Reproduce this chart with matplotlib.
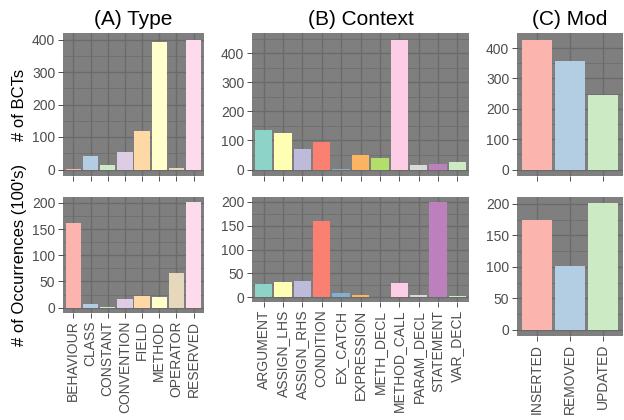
import matplotlib
matplotlib.use("Agg")
import matplotlib.pyplot as plt
import numpy as np

plt.rcParams["font.family"] = ["Liberation Sans", "DejaVu Sans"]

# (A) Type
type_labels = ["BEHAVIOUR", "CLASS", "CONSTANT", "CONVENTION", "FIELD",
               "METHOD", "OPERATOR", "RESERVED"]
type_bcts = [2, 42, 14, 54, 120, 393, 4, 400]
type_occ = [161, 7, 1, 17, 22, 21, 66, 201]

# (B) Context
ctx_labels = ["ARGUMENT", "ASSIGN_LHS", "ASSIGN_RHS", "CONDITION", "EX_CATCH",
              "EXPRESSION", "METH_DECL", "METHOD_CALL", "PARAM_DECL",
              "STATEMENT", "VAR_DECL"]
ctx_bcts = [137, 127, 72, 96, 2, 51, 41, 448, 16, 19, 26]
ctx_occ = [27, 31, 35, 160, 8, 4, 1, 29, 4, 200, 3]

# (C) Mod
mod_labels = ["INSERTED", "REMOVED", "UPDATED"]
mod_bcts = [428, 358, 245]
mod_occ = [175, 101, 201]

pastel1 = ["#FBB4AE", "#B3CDE3", "#CCEBC5", "#DECBE4", "#FED9A6",
           "#FFFFCC", "#E5D8BD", "#FDDAEC"]
set3 = ["#8DD3C7", "#FFFFB3", "#BEBADA", "#FB8072", "#80B1D3", "#FDB462",
        "#B3DE69", "#FCCDE5", "#D9D9D9", "#BC80BD", "#CCEBC5"]

W, H = 624, 420
fig = plt.figure(figsize=(W / 100, H / 100), dpi=100)


def panel(x0, y0, x1, y1):
    # pixel box -> figure coords
    return fig.add_axes([x0 / W, 1 - y1 / H, (x1 - x0) / W, (y1 - y0) / H])


def draw(ax, labels, values, colors, step, show_x):
    n = len(labels)
    vmax = max(values)
    ax.set_facecolor("#7F7F7F")
    ax.set_xlim(-0.6, n - 0.4)
    ax.set_ylim(-0.05 * vmax, 1.05 * vmax)
    lo, hi = ax.get_ylim()
    majors = np.arange(0, hi, step)
    minors = np.arange(-step / 2, hi, step)
    minors = minors[(minors > lo) & (minors < hi)]
    for m in minors:
        ax.axhline(m, color="#6B6B6B", lw=0.5, zorder=0)
    for m in majors:
        ax.axhline(m, color="#6B6B6B", lw=1.0, zorder=0)
    for i in range(n):
        ax.axvline(i, color="#6B6B6B", lw=1.0, zorder=0)
    ax.bar(range(n), values, width=0.9, color=colors[:n], zorder=2)
    ax.set_yticks(majors)
    ax.set_yticklabels([str(int(m)) for m in majors])
    ax.set_xticks(range(n))
    if show_x:
        ax.set_xticklabels(labels, rotation=90, ha="center", va="top")
    else:
        ax.set_xticklabels([])
    for s in ax.spines.values():
        s.set_visible(False)
    ax.tick_params(axis="both", colors="#333333", labelcolor="#4D4D4D",
                   labelsize=10, length=3.5, width=0.6, pad=2)


axA1 = panel(63, 33, 204, 176)
axA2 = panel(63, 197, 204, 313)
axB1 = panel(252, 33, 469, 176)
axB2 = panel(252, 197, 469, 302)
axC1 = panel(517, 33, 623, 176)
axC2 = panel(517, 197, 623, 336)

draw(axA1, type_labels, type_bcts, pastel1, 100, False)
draw(axA2, type_labels, type_occ, pastel1, 50, True)
draw(axB1, ctx_labels, ctx_bcts, set3, 100, False)
draw(axB2, ctx_labels, ctx_occ, set3, 50, True)
draw(axC1, mod_labels, mod_bcts, pastel1, 100, False)
draw(axC2, mod_labels, mod_occ, pastel1, 50, True)

axA1.set_title("(A) Type", fontsize=15, pad=6)
axB1.set_title("(B) Context", fontsize=15, pad=6)
axC1.set_title("(C) Mod", fontsize=15, pad=6)
axA1.set_ylabel("# of BCTs", fontsize=12)
axA2.set_ylabel("# of Occurrences (100's)", fontsize=12)
axA1.yaxis.set_label_coords(-0.255, 0.5)
axA2.yaxis.set_label_coords(-0.255, 0.5)

fig.savefig("out.png", dpi=100)
